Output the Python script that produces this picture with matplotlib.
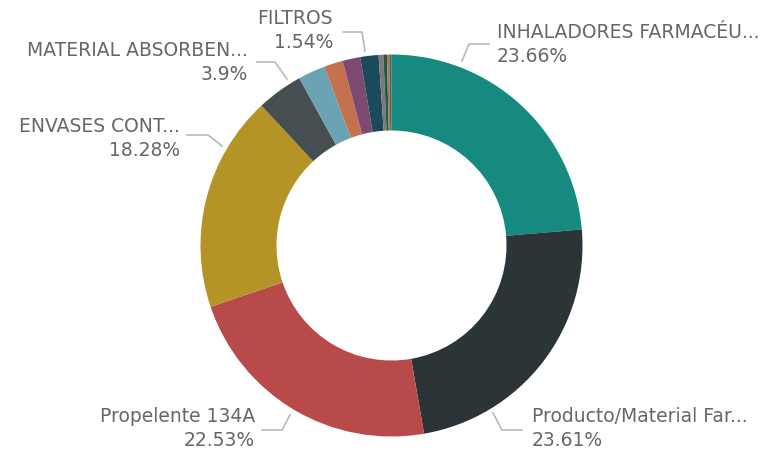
import numpy as np
import matplotlib
matplotlib.use('Agg')
import matplotlib.pyplot as plt

# categorias y porcentajes (sentido horario desde arriba)
labels = ['INHALADORES FARMACÉU...', 'Producto/Material Far...', 'Propelente 134A',
          'ENVASES CONT...', 'MATERIAL ABSORBEN...', 'otro1', 'otro2', 'otro3',
          'FILTROS', 'otro4', 'otro5', 'otro6', 'otro7']
values = [23.66, 23.61, 22.53, 18.28, 3.9, 2.3, 1.6, 1.5, 1.54, 0.4, 0.3, 0.2, 0.18]
pct_text = ['23.66%', '23.61%', '22.53%', '18.28%', '3.9%', '', '', '', '1.54%',
            '', '', '', '']
colors = ['#168a7e', '#2b3537', '#b84a4a', '#b49426', '#464e51', '#6aa3b4',
          '#c5714d', '#7d4a71', '#1b4a5a', '#7a7a7a', '#1e5a4a', '#c07040', '#3a6a60']

fig = plt.figure(figsize=(7.78, 4.55), dpi=100)
ax = fig.add_axes([0, 0, 1, 1])

cx, cy, R = 391.5, 209.5, 191
wedges, _ = ax.pie(values, colors=colors, startangle=90, counterclock=False,
                   radius=R, center=(cx, cy), frame=True,
                   wedgeprops=dict(width=76, linewidth=0))
ax.set_xlim(0, 778)
ax.set_ylim(0, 455)
ax.set_aspect('equal')
ax.axis('off')

# etiquetas: x texto, y linea1, alineacion, linea guia (puntos)
H = 455
label_pos = {
    0: (497, 32, 'left', [(462, 61), (469, 44), (489, 44)]),
    1: (532, 417, 'left', [(493, 413), (502, 430), (522, 430)]),
    2: (255, 417, 'right', [(290, 415), (282, 430), (262, 430)]),
    3: (180, 127, 'right', [(222, 146), (208, 135), (187, 135)]),
    4: (248, 50, 'right', [(287, 79), (275, 62), (257, 62)]),
    8: (333, 18, 'right', [(365, 51), (362, 32), (343, 32)]),
}
lc = '#b8b8b8'
tc = '#666666'
for i, (tx, ty, ha, pts) in label_pos.items():
    xs = [p[0] for p in pts]
    ys = [H - p[1] for p in pts]
    ax.plot(xs, ys, color=lc, lw=1.2)
    ax.text(tx, H - ty, labels[i], ha=ha, va='center', fontsize=13.5, color=tc,
            family='DejaVu Sans')
    ax.text(tx, H - ty - 24, pct_text[i], ha=ha, va='center', fontsize=13.5,
            color=tc, family='DejaVu Sans')

fig.savefig('out.png', dpi=100, facecolor='white')
